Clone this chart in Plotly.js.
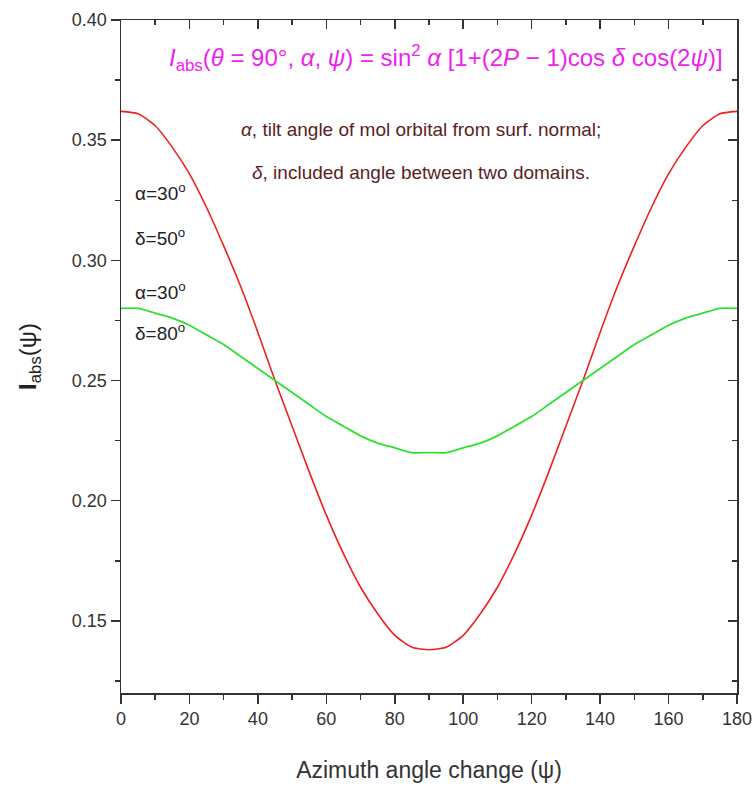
<!DOCTYPE html>
<html><head><meta charset="utf-8">
<script src="https://cdn.plot.ly/plotly-3.0.1.min.js"></script>
<style>body{margin:0;background:#fff}#chart{width:754px;height:796px}</style>
</head><body><div id="chart"></div>
<script>
// Azimuth angle (deg)
const psi = [0,5,10,15,20,25,30,35,40,45,50,55,60,65,70,75,80,85,90,95,100,105,110,115,120,125,130,135,140,145,150,155,160,165,170,175,180];
// alpha=30°, delta=50°
const red = [0.362,0.361,0.356,0.347,0.336,0.322,0.306,0.289,0.270,0.250,0.231,0.212,0.194,0.178,0.164,0.153,0.144,0.139,0.138,0.139,0.144,0.153,0.164,0.178,0.194,0.212,0.231,0.250,0.270,0.289,0.306,0.322,0.336,0.347,0.356,0.361,0.362];
// alpha=30°, delta=80°
const green = [0.280,0.280,0.278,0.276,0.273,0.269,0.265,0.260,0.255,0.250,0.245,0.240,0.235,0.231,0.227,0.224,0.222,0.220,0.220,0.220,0.222,0.224,0.227,0.231,0.235,0.240,0.245,0.250,0.255,0.260,0.265,0.269,0.273,0.276,0.278,0.280,0.280];
const xTicks = [0,20,40,60,80,100,120,140,160,180];
const yTicks = [0.15,0.20,0.25,0.30,0.35,0.40];

const F = "'Liberation Sans Narrow','Arial Narrow','Liberation Sans',Arial,sans-serif";
const axC = '#333';

const traces = [
  {x: psi, y: red, xaxis:'x', yaxis:'y', mode:'lines', line:{color:'#ee2020', width:1.6, shape:'spline', smoothing:0.6}, hoverinfo:'skip'},
  {x: psi, y: green, xaxis:'x2', yaxis:'y2', mode:'lines', line:{color:'#30e030', width:1.8, shape:'spline', smoothing:0.6}, hoverinfo:'skip'}
];

const common = {showline:true, linecolor:axC, linewidth:1.5, showgrid:false, zeroline:false, tickwidth:1.5, tickcolor:axC};

const layout = {
  width:754, height:796,
  margin:{l:121, r:17, t:20, b:103},
  paper_bgcolor:'#fff', plot_bgcolor:'#fff',
  showlegend:false,
  font:{family:F, color:axC, size:17},
  xaxis:Object.assign({range:[0,180], tickvals:xTicks, ticktext:xTicks.map(String), ticks:'outside', ticklen:9,
    minor:{dtick:10, tick0:0, ticks:'outside', ticklen:5, tickwidth:1.5, tickcolor:axC},
    tickfont:{family:F, size:18, color:axC},
    title:{text:'Azimuth angle change (ψ)', font:{family:F, size:23, color:axC}, standoff:34}}, common),
  yaxis:Object.assign({range:[0.12,0.40], tickvals:yTicks, ticktext:yTicks.map(v=>v.toFixed(2)), ticks:'outside', ticklen:9,
    minor:{dtick:0.025, tick0:0, ticks:'outside', ticklen:5, tickwidth:1.5, tickcolor:axC},
    tickfont:{family:F, size:18, color:axC},
    title:{text:'<b>I</b><sub>abs</sub>(ψ)', font:{family:F, size:24, color:'#222'}, standoff:28}}, common),
  xaxis2:Object.assign({overlaying:'x', side:'top', range:[0,180], dtick:20, tick0:0, ticks:'inside', ticklen:9,
    minor:{dtick:10, tick0:0, ticks:'inside', ticklen:5, tickwidth:1.5, tickcolor:axC},
    showticklabels:false}, common),
  yaxis2:Object.assign({overlaying:'y', side:'right', range:[0.12,0.40], dtick:0.05, tick0:0, ticks:'inside', ticklen:9,
    minor:{dtick:0.025, tick0:0, ticks:'inside', ticklen:5, tickwidth:1.5, tickcolor:axC},
    showticklabels:false}, common),
  annotations:[
    {xref:'paper', yref:'paper', x:0.528, y:0.944, xanchor:'center', yanchor:'middle', showarrow:false,
     text:'<i>I</i><sub>abs</sub>(<i>θ</i> = 90°, <i>α</i>, <i>ψ</i>) = sin<sup>2</sup> <i>α</i> [1+(2<i>P</i> − 1)cos <i>δ</i> cos(2<i>ψ</i>)]',
     font:{family:F, size:24, color:'#ee22ee'}},
    {xref:'paper', yref:'paper', x:0.487, y:0.838, xanchor:'center', yanchor:'middle', showarrow:false,
     text:'<i>α</i>, tilt angle of mol orbital from surf. normal;', font:{family:F, size:19, color:'#5a1e1e'}},
    {xref:'paper', yref:'paper', x:0.487, y:0.773, xanchor:'center', yanchor:'middle', showarrow:false,
     text:'<i>δ</i>, included angle between two domains.', font:{family:F, size:19, color:'#5a1e1e'}},
    {xref:'paper', yref:'paper', x:0.02, y:0.744, xanchor:'left', yanchor:'middle', showarrow:false,
     text:'α=30<sup>o</sup>', font:{family:F, size:19, color:'#222'}},
    {xref:'paper', yref:'paper', x:0.02, y:0.678, xanchor:'left', yanchor:'middle', showarrow:false,
     text:'δ=50<sup>o</sup>', font:{family:F, size:19, color:'#222'}},
    {xref:'paper', yref:'paper', x:0.02, y:0.597, xanchor:'left', yanchor:'middle', showarrow:false,
     text:'α=30<sup>o</sup>', font:{family:F, size:19, color:'#222'}},
    {xref:'paper', yref:'paper', x:0.02, y:0.536, xanchor:'left', yanchor:'middle', showarrow:false,
     text:'δ=80<sup>o</sup>', font:{family:F, size:19, color:'#222'}}
  ]
};
Plotly.newPlot('chart', traces, layout, {displayModeBar:false, staticPlot:true});
</script></body></html>
